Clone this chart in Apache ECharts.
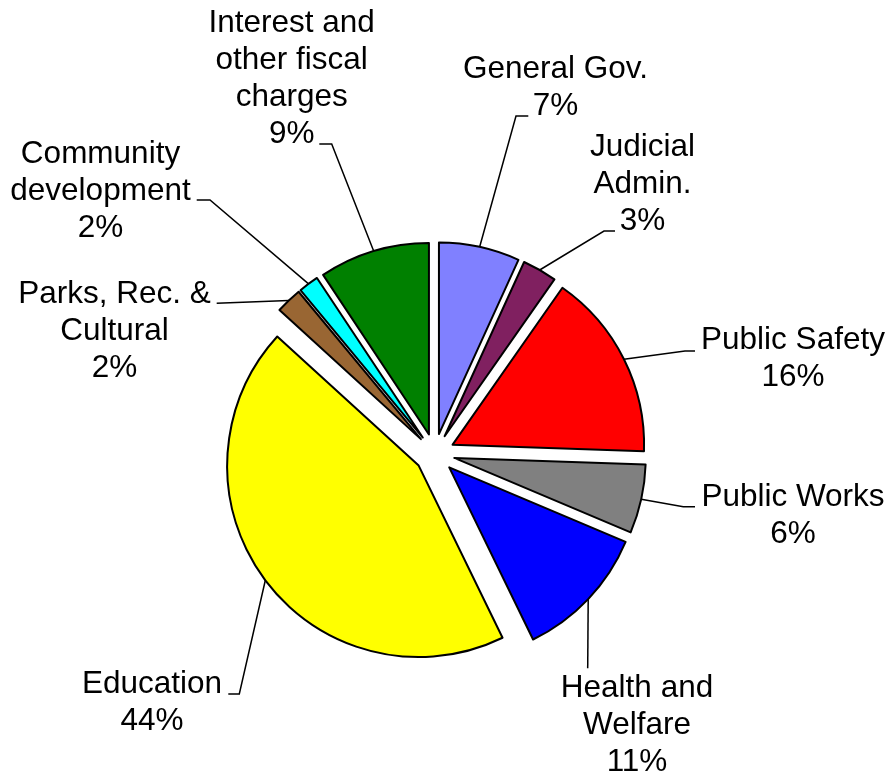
<!DOCTYPE html>
<html><head><meta charset="utf-8">
<script src="https://cdn.jsdelivr.net/npm/echarts@6/dist/echarts.min.js"></script>
<style>html,body{margin:0;padding:0;background:#fff}#c{width:889px;height:774px}</style>
</head><body><div id="c"></div>
<script>
// ---- data ----
const categories = ['General Gov.', 'Judicial\nAdmin.', 'Public Safety', 'Public Works', 'Health and\nWelfare', 'Education', 'Parks, Rec. &\nCultural', 'Community\ndevelopment', 'Interest and\nother fiscal\ncharges'];
const values = [6.8, 2.9, 15.8, 5.8, 11.4, 43.9, 2.2, 1.7, 9.3];
const colors = ['#8080FF', '#802060', '#FF0000', '#808080', '#0000FF', '#FFFF00', '#996633', '#00FFFF', '#008000'];

// ---- label layout (text block centre, leader-line elbow and end) ----
const labelCenters = [[555.5,87.5],[642.5,184.5],[793,359],[793,515.5],[637,725.5],[152,702.5],[114.5,331],[100.5,191],[291.7,79]];
const leaderElbows = [[516,116],[604,231],[685,351],[683.3,506.7],[587.7,668.3],[239.3,694],[216.7,303.3],[210,200],[331.7,144]];
const leaderEnds   = [[528.3,116],[615,231],[695,351],[695,506.7],[587.7,668.3],[228.3,694],[216.7,303.3],[196.7,200],[319.3,144]];

const CX = 434.7, CY = 453.6, R = 191.5, OFFSET = 20;

const chart = echarts.init(document.getElementById('c'), null, {renderer: 'canvas'});
const pieData = categories.map(function (n, i) {
  return {name: n, value: values[i], itemStyle: {color: colors[i]}};
});
chart.setOption({
  animation: false,
  backgroundColor: '#fff',
  series: [{
    // exploded slices
    type: 'pie',
    center: [CX, CY],
    radius: R,
    startAngle: 90,
    clockwise: true,
    selectedMode: 'multiple',
    selectedOffset: OFFSET,
    silent: true,
    itemStyle: {borderColor: '#000', borderWidth: 2},
    select: {itemStyle: {borderColor: '#000', borderWidth: 2}},
    label: {show: false},
    labelLine: {show: false},
    emphasis: {disabled: true},
    data: pieData.map(function (d) { return Object.assign({selected: true}, d); })
  }, {
    // labels and leader lines (same slices, invisible)
    type: 'pie',
    center: [CX, CY],
    radius: R,
    startAngle: 90,
    clockwise: true,
    selectedMode: false,
    silent: true,
    percentPrecision: 0,
    avoidLabelOverlap: false,
    z: 3,
    itemStyle: {color: 'rgba(0,0,0,0)', borderWidth: 0},
    label: {
      show: true, position: 'outside', formatter: '{b}\n{d}%',
      color: '#000', fontFamily: 'Liberation Sans, Arial, sans-serif',
      fontSize: 31.5, lineHeight: 37, overflow: 'none'
    },
    labelLine: {show: true, lineStyle: {color: '#000', width: 1.5}},
    emphasis: {disabled: true},
    labelLayout: function (p) {
      const i = p.dataIndex;
      const q = p.labelLinePoints ? p.labelLinePoints[0] : [CX, CY - R];
      const vx = q[0] - CX, vy = q[1] - CY;
      const len = Math.sqrt(vx * vx + vy * vy) || 1;
      const ux = vx / len, uy = vy / len;
      const p0 = [CX + ux * (R + OFFSET), CY + uy * (R + OFFSET)];
      return {
        x: labelCenters[i][0], y: labelCenters[i][1],
        align: 'center', verticalAlign: 'middle',
        labelLinePoints: [p0, leaderElbows[i], leaderEnds[i]]
      };
    },
    data: pieData.map(function (d) { return {name: d.name, value: d.value}; })
  }]
});
</script>
</body></html>
